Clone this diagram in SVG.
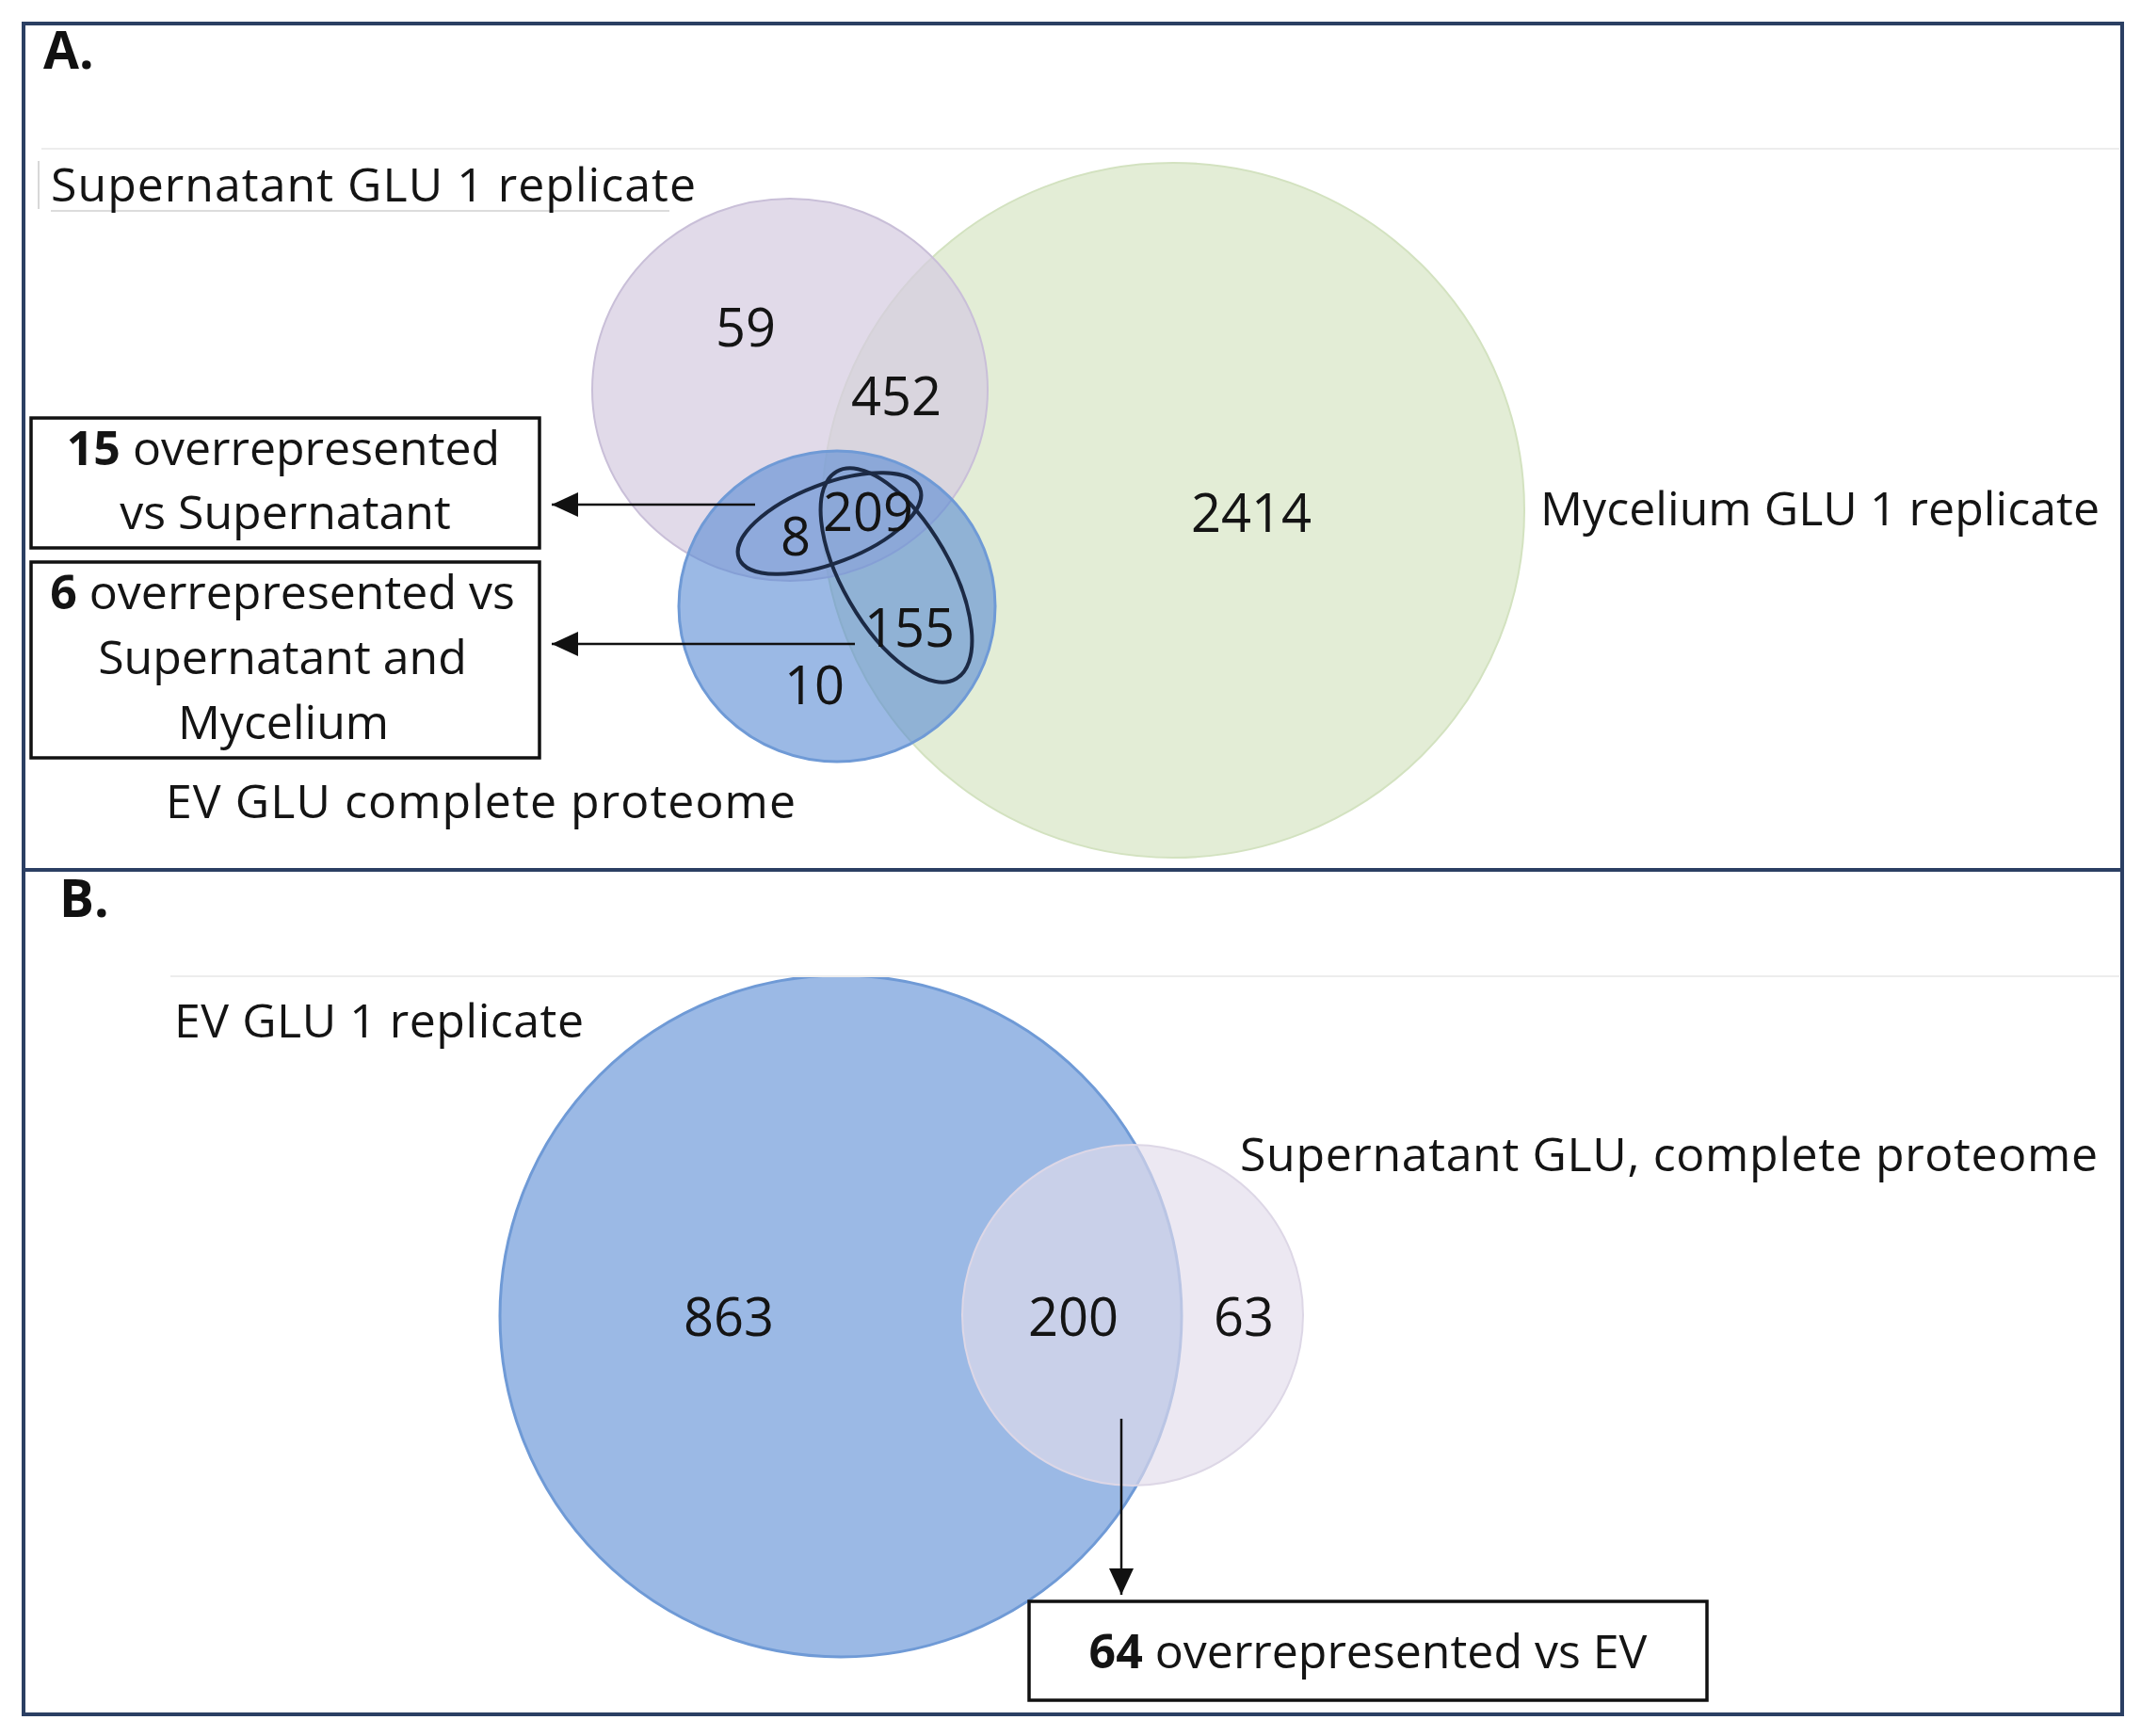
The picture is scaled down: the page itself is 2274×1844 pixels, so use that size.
<svg xmlns="http://www.w3.org/2000/svg" width="2274" height="1844" viewBox="0 0 2274 1844">
<style>
.lbl{font-family:"Open Sans","Noto Sans","DejaVu Sans",sans-serif;font-size:50px;fill:#141414}
.mid{text-anchor:middle}
.num{font-family:"Open Sans","Noto Sans","DejaVu Sans",sans-serif;font-size:56px;fill:#141414;text-anchor:middle}
.hdr{font-family:"Open Sans","Noto Sans","DejaVu Sans",sans-serif;font-size:55px;font-weight:bold;fill:#111}
.box{fill:#fff;stroke:#111;stroke-width:3.5}
.frame{fill:none;stroke:#2b3f63;stroke-width:4}
.conn{stroke:#111;stroke-width:2.5;fill:none;marker-end:url(#arr)}
.sel{fill:none;stroke:#1c2a45;stroke-width:4}
.faint{stroke:#ededed;stroke-width:2;fill:none}
.green{fill:#e3edd6;stroke:#d3e2c0;stroke-width:2}
.purple{fill:#d5cce0;fill-opacity:0.72;stroke:#c9bfd8;stroke-width:2}
.blue{fill:#588ad4;fill-opacity:0.6;stroke:#6f9ad6;stroke-width:3}
.lav{fill:#e2dceb;fill-opacity:0.65;stroke:#ddd7e6;stroke-width:2}
</style>
<defs>
<marker id="arr" markerUnits="userSpaceOnUse" viewBox="0 0 28 26" refX="28" refY="13" markerWidth="28" markerHeight="26" orient="auto">
<path d="M0,0 L28,13 L0,26 Z" fill="#111"/>
</marker>
<clipPath id="clipB"><rect x="0" y="1038" width="2274" height="800"/></clipPath>
</defs>
<rect x="0" y="0" width="2274" height="1844" fill="#fff"/>

<g id="frames">
<rect class="frame" x="25" y="25" width="2229" height="899"/>
<rect class="frame" x="25" y="924" width="2229" height="897"/>
</g>

<g id="faint-lines">
<line class="faint" x1="44" y1="158" x2="2251" y2="158"/>
<line x1="41" y1="171" x2="41" y2="222" stroke="#d8d8d8" stroke-width="2"/>
<line x1="54" y1="224" x2="711" y2="224" stroke="#dcdcdc" stroke-width="2"/>
<line class="faint" x1="181" y1="1037" x2="2251" y2="1037"/>
</g>

<text class="hdr" x="46" y="73">A.</text>
<text class="hdr" x="63" y="974">B.</text>

<g id="venn-A">
<g id="set-mycelium"><ellipse class="green" cx="1246" cy="542" rx="373" ry="369"/></g>
<g id="set-supernatant"><ellipse class="purple" cx="839" cy="414" rx="210" ry="203"/></g>
<g id="set-ev"><ellipse class="blue" cx="889" cy="644" rx="168" ry="165"/></g>
<g id="sel-supernatant"><ellipse class="sel" cx="881" cy="556" rx="103" ry="42" transform="rotate(-21 881 556)"/></g>
<g id="sel-both"><ellipse class="sel" cx="952" cy="611" rx="57" ry="127" transform="rotate(-30 952 611)"/></g>
<text class="num" x="792" y="368">59</text>
<text class="num" x="952" y="441">452</text>
<text class="num" x="1329" y="565">2414</text>
<text class="num" x="845" y="590">8</text>
<text class="num" x="922" y="564">209</text>
<text class="num" x="966" y="687">155</text>
<text class="num" x="865" y="748">10</text>
</g>

<g id="labels-A">
<text class="lbl" x="54" y="214" textLength="685">Supernatant GLU 1 replicate</text>
<text class="lbl" x="1636" y="558" textLength="594">Mycelium GLU 1 replicate</text>
<text class="lbl" x="176" y="869" textLength="669">EV GLU complete proteome</text>
</g>

<g id="box-15">
<rect class="box" x="33" y="444" width="540" height="138"/>
<text class="lbl mid" x="301" y="494"><tspan font-weight="bold">15</tspan> overrepresented</text>
<text class="lbl mid" x="303" y="562">vs Supernatant</text>
</g>

<g id="box-6">
<rect class="box" x="33" y="597" width="540" height="208"/>
<text class="lbl mid" x="300" y="647"><tspan font-weight="bold">6</tspan> overrepresented vs</text>
<text class="lbl mid" x="300" y="716">Supernatant and</text>
<text class="lbl mid" x="301" y="785">Mycelium</text>
</g>

<g id="venn-B">
<g id="set-ev-rep"><circle class="blue" cx="893" cy="1398" r="362" clip-path="url(#clipB)"/></g>
<g id="set-supernatant-complete"><circle class="lav" cx="1203" cy="1397" r="181"/></g>
<text class="num" x="774" y="1419">863</text>
<text class="num" x="1140" y="1419">200</text>
<text class="num" x="1321" y="1419">63</text>
</g>

<g id="labels-B">
<text class="lbl" x="185" y="1102" textLength="435">EV GLU 1 replicate</text>
<text class="lbl" x="1317" y="1244" textLength="911">Supernatant GLU, complete proteome</text>
</g>

<g id="box-64">
<rect class="box" x="1093" y="1701" width="720" height="105"/>
<text class="lbl mid" x="1453" y="1772"><tspan font-weight="bold">64</tspan> overrepresented vs EV</text>
</g>

<g id="connectors">
<line class="conn" x1="802" y1="536" x2="586" y2="536"/>
<line class="conn" x1="908" y1="684" x2="586" y2="684"/>
<line class="conn" x1="1191" y1="1507" x2="1191" y2="1694"/>
</g>
</svg>
